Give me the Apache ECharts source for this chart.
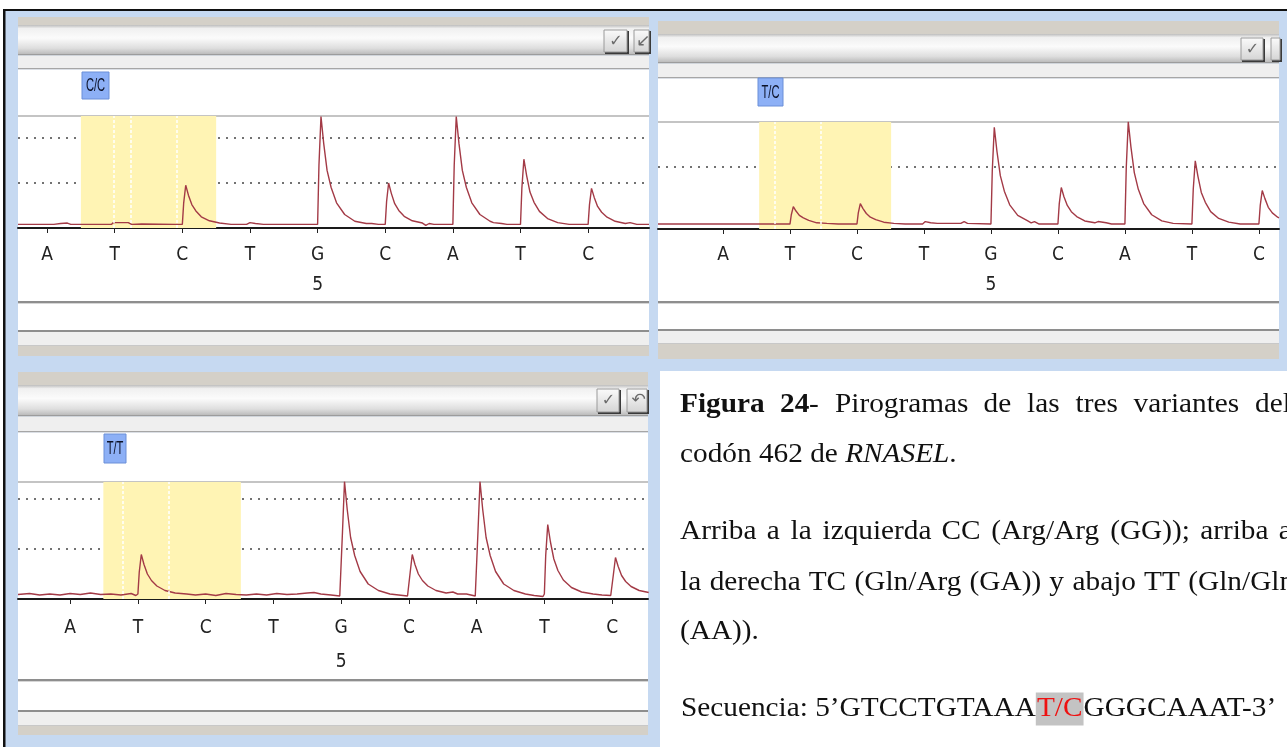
<!DOCTYPE html>
<html><head><meta charset="utf-8">
<script src="https://cdn.jsdelivr.net/npm/echarts@6/dist/echarts.min.js"></script>
<style>html,body{margin:0;padding:0;background:#fff;}#c{width:1287px;height:747px;}</style>
</head><body><div id="c"></div><script>
// ---------- DATA ----------
const dispensations = ['A', 'T', 'C', 'T', 'G', 'C', 'A', 'T', 'C'];
const positionNumbers = ['', '', '', '', '5', '', '', '', ''];
const genotypes = ['C/C', 'T/C', 'T/T'];

// pyrogram traces [dispensation position, signal]
const traceCC = [[-0.43,0.08],[0.1,0.08],[0.12,0.11],[0.2,0.1],[0.3,0.11],[0.35,0.08],[0.95,0.08],[0.98,0.12],[1.2,0.12],[1.25,0.08],[1.4,0.09],[1.9,0.08],
 [2.0,0.08],[2.02,0.56],[2.05,0.95],[2.09,0.73],[2.14,0.52],[2.2,0.38],[2.28,0.25],[2.4,0.16],[2.55,0.11],[2.72,0.08],
 [2.95,0.08],[3.0,0.12],[3.08,0.1],[3.2,0.08],
 [4.0,0.08],[4.02,1.4],[4.05,2.48],[4.09,1.88],[4.14,1.28],[4.2,0.9],[4.28,0.56],[4.4,0.3],[4.55,0.15],[4.72,0.1],[4.8,0.1],[4.82,0.07],[4.9,0.08],
 [5.0,0.08],[5.02,0.59],[5.05,1.0],[5.09,0.77],[5.14,0.54],[5.2,0.39],[5.28,0.26],[5.4,0.16],[5.55,0.11],[5.6,0.06],[5.65,0.1],[5.72,0.08],
 [6.0,0.08],[6.02,1.4],[6.05,2.48],[6.09,1.88],[6.14,1.28],[6.2,0.9],[6.28,0.56],[6.4,0.3],[6.55,0.15],[6.6,0.12],[6.72,0.1],[6.8,0.08],
 [7.0,0.08],[7.02,0.88],[7.05,1.53],[7.09,1.17],[7.14,0.8],[7.2,0.57],[7.28,0.37],[7.4,0.21],[7.55,0.12],[7.72,0.08],
 [8.0,0.08],[8.02,0.52],[8.05,0.88],[8.09,0.68],[8.14,0.48],[8.2,0.35],[8.28,0.24],[8.4,0.15],[8.55,0.1],[8.62,0.12],[8.72,0.08],[8.9,0.08]];

const traceTC = [[-0.97,0.08],[0.8,0.08],
 [1.0,0.08],[1.02,0.23],[1.05,0.36],[1.09,0.29],[1.14,0.22],[1.2,0.18],[1.28,0.14],[1.4,0.1],[1.55,0.09],[1.72,0.08],
 [2.0,0.08],[2.02,0.26],[2.05,0.41],[2.09,0.33],[2.14,0.25],[2.2,0.19],[2.28,0.15],[2.4,0.11],[2.55,0.09],[2.72,0.08],
 [2.98,0.08],[3.02,0.12],[3.1,0.1],[3.2,0.09],[3.55,0.09],[3.6,0.12],[3.65,0.09],
 [4.0,0.08],[4.02,0.94],[4.05,1.64],[4.09,1.25],[4.14,0.86],[4.2,0.61],[4.28,0.39],[4.4,0.22],[4.55,0.13],[4.6,0.1],[4.65,0.12],[4.72,0.08],
 [5.0,0.08],[5.02,0.41],[5.05,0.67],[5.09,0.52],[5.14,0.38],[5.2,0.28],[5.28,0.2],[5.4,0.13],[5.55,0.1],[5.6,0.12],[5.72,0.1],[5.8,0.08],
 [6.0,0.08],[6.02,0.99],[6.05,1.73],[6.09,1.32],[6.14,0.91],[6.2,0.64],[6.28,0.41],[6.4,0.23],[6.55,0.13],[6.72,0.09],
 [7.0,0.08],[7.02,0.64],[7.05,1.1],[7.09,0.85],[7.14,0.59],[7.2,0.43],[7.28,0.28],[7.4,0.17],[7.55,0.11],[7.72,0.08],
 [8.0,0.08],[8.02,0.38],[8.05,0.62],[8.09,0.49],[8.14,0.35],[8.2,0.26],[8.28,0.19],[8.3,0.18]];

const traceTT = [[-0.77,0.09],[-0.6,0.11],[-0.45,0.08],[-0.3,0.1],[-0.15,0.08],[0,0.11],[0.15,0.09],[0.3,0.12],[0.45,0.09],[0.6,0.1],[0.75,0.08],[0.9,0.11],[0.97,0.07],
 [1.0,0.1],[1.02,0.54],[1.05,0.89],[1.09,0.69],[1.14,0.5],[1.2,0.37],[1.28,0.26],[1.4,0.17],[1.55,0.12],[1.72,0.1],
 [1.85,0.08],[2.0,0.1],[2.15,0.07],[2.3,0.11],[2.45,0.09],[2.6,0.08],[2.75,0.1],[2.9,0.08],[3.05,0.11],[3.2,0.09],[3.35,0.1],[3.5,0.12],[3.6,0.13],[3.7,0.1],[3.85,0.08],[3.98,0.06],
 [4.0,0.1],[4.02,1.34],[4.05,2.35],[4.09,1.79],[4.14,1.23],[4.2,0.87],[4.28,0.55],[4.4,0.3],[4.55,0.17],[4.72,0.1],[4.85,0.08],[4.98,0.06],
 [5.0,0.1],[5.02,0.54],[5.05,0.89],[5.09,0.69],[5.14,0.5],[5.2,0.37],[5.28,0.26],[5.4,0.17],[5.55,0.12],[5.65,0.14],[5.72,0.1],[5.85,0.1],[5.98,0.06],
 [6.0,0.1],[6.02,1.34],[6.05,2.35],[6.09,1.79],[6.14,1.23],[6.2,0.87],[6.28,0.55],[6.4,0.3],[6.55,0.17],[6.72,0.1],[6.85,0.07],[6.98,0.05],
 [7.0,0.1],[7.02,0.87],[7.05,1.49],[7.09,1.14],[7.14,0.8],[7.2,0.57],[7.28,0.38],[7.4,0.23],[7.55,0.14],[7.72,0.1],[7.85,0.08],[7.98,0.07],
 [8.0,0.1],[8.02,0.5],[8.05,0.83],[8.09,0.65],[8.14,0.47],[8.2,0.35],[8.28,0.25],[8.4,0.17],[8.54,0.13]];

// highlighted (variant) region and internal separators, in dispensation units
const highlightCC = [0.5, 2.5];
const highlightTC = [0.54, 2.51];
const highlightTT = [0.49, 2.52];
const separatorsCC = [0.98, 1.23, 1.92];
const separatorsTC = [0.78, 1.46];
const separatorsTT = [0.77, 1.46];

// ---------- LAYOUT ----------
const panels = [
  {trace: traceCC, hl: highlightCC, sep: separatorsCC, badge: genotypes[0],
   x: 18, w: 631, xmin: -0.43, xmax: 8.9, ymax: 2.49,
   tanTop: 17, tanBot: 25, hdrBot: 54, lightBot: 68, plotTop: 116, axis: 228,
   line1: 301, line2: 330, lightBot2: 345, tanBot2: 356,
   badgeBox: [82, 72, 27, 27], btn: [604, 30, 24, 23], btn2: [634, 30, 16, 23], icon2: '↙',
   labelMargin: 12, labelLH: 30},
  {trace: traceTC, hl: highlightTC, sep: separatorsTC, badge: genotypes[1],
   x: 658, w: 621, xmin: -0.97, xmax: 8.3, ymax: 1.726,
   tanTop: 21, tanBot: 34, hdrBot: 62, lightBot: 77, plotTop: 122, axis: 229,
   line1: 301, line2: 329, lightBot2: 343, tanBot2: 359,
   badgeBox: [758, 78, 25, 28], btn: [1241, 38, 23, 23], btn2: [1271, 38, 10, 23], icon2: '',
   labelMargin: 11, labelLH: 30},
  {trace: traceTT, hl: highlightTT, sep: separatorsTT, badge: genotypes[2],
   x: 18, w: 630, xmin: -0.77, xmax: 8.53, ymax: 2.34,
   tanTop: 372, tanBot: 385, hdrBot: 415, lightBot: 431, plotTop: 482, axis: 599,
   line1: 679, line2: 710, lightBot2: 725, tanBot2: 735,
   badgeBox: [104, 434, 22, 29], btn: [597, 389, 23, 24], btn2: [627, 389, 21, 24], icon2: '↶',
   labelMargin: 12, labelLH: 34}
];

const BLUE = '#c6d9f1', TAN = '#d4d0c8', LIGHT = '#efefef', DARKLINE = '#8e8e8e';
const graphics = [];
function R(x, y, w, h, fill, z, extra) {
  return {type: 'rect', silent: true, z: z === undefined ? -10 : z,
    shape: {x, y, width: w, height: h}, style: Object.assign({fill}, extra || {})};
}
function T(x, y, text, st, z, sx) {
  return {type: 'text', x, y, silent: true, z: z === undefined ? 100 : z, scaleX: sx || 1,
    style: Object.assign({text, verticalAlign: 'middle'}, st)};
}
function grad(stops) { return {type: 'linear', x: 0, y: 0, x2: 0, y2: 1, colorStops: stops}; }

// page background and frame
graphics.push(R(5, 11, 1282, 360, BLUE, -20));
graphics.push(R(5, 370, 655, 377, BLUE, -20));
graphics.push(R(3, 9, 1284, 2, '#111', -5));
graphics.push(R(3, 9, 2.5, 738, '#111', -5));

panels.forEach(p => {
  const x = p.x, w = p.w;
  graphics.push(R(x, p.tanTop, w, p.tanBot - p.tanTop, TAN));
  graphics.push(R(x, p.tanBot, w, p.hdrBot - p.tanBot, grad([
    {offset: 0, color: '#bdbdbd'}, {offset: 0.12, color: '#f0f0f0'}, {offset: 0.45, color: '#fbfbfb'},
    {offset: 0.8, color: '#dedede'}, {offset: 1, color: '#bcbcbc'}])));
  graphics.push(R(x, p.hdrBot, w, 1.5, '#9c9c9c'));
  graphics.push(R(x, p.hdrBot + 1.5, w, p.lightBot - p.hdrBot - 1.5, LIGHT));
  graphics.push(R(x, p.lightBot, w, 1.5, '#a6a6a6'));
  graphics.push(R(x, p.lightBot + 1.5, w, p.line1 - p.lightBot - 1.5, '#ffffff'));
  graphics.push(R(x, p.plotTop - 1, w, 2, '#c4c4c4', -9));
  graphics.push(R(x, p.line1, w, 2, DARKLINE, -9));
  graphics.push(R(x, p.line1 + 2, w, 1, '#d6d6d6', -9));
  graphics.push(R(x, p.line1 + 3, w, p.line2 - p.line1 - 3, '#ffffff'));
  graphics.push(R(x, p.line2, w, 2, DARKLINE, -9));
  graphics.push(R(x, p.line2 + 2, w, p.lightBot2 - p.line2 - 2, LIGHT));
  graphics.push(R(x, p.lightBot2, w, 1, '#c8c8c8', -9));
  graphics.push(R(x, p.lightBot2 + 1, w, p.tanBot2 - p.lightBot2 - 1, TAN));
  // buttons
  [p.btn, p.btn2].forEach(b => {
    graphics.push(R(b[0] + 1, b[1] + 1, b[2], b[3], '#3a3a3a', -8));
    graphics.push(R(b[0], b[1], b[2] - 1, b[3] - 1, grad([{offset: 0, color: '#fbfbfb'}, {offset: 1, color: '#d4d4d4'}]), -7,
      {stroke: '#9a9a9a', lineWidth: 1}));
  });
  graphics.push(T(p.btn[0] + p.btn[2] / 2, p.btn[1] + p.btn[3] / 2,
    '✓', {fontSize: 16, fontFamily: 'DejaVu Sans', fill: '#6a6a6a', align: 'center'}, 50));
  if (p.icon2) graphics.push(T(p.btn2[0] + p.btn2[2] / 2 + 1, p.btn2[1] + p.btn2[3] / 2,
    p.icon2, {fontSize: 17, fontFamily: 'DejaVu Sans', fill: '#6a6a6a', align: 'center'}, 50));
  // genotype badge
  const bb = p.badgeBox;
  graphics.push(R(bb[0], bb[1], bb[2], bb[3], '#8db0f6', -6, {stroke: '#6b8fd8', lineWidth: 1}));
  graphics.push(T(bb[0] + bb[2] / 2, bb[1] + bb[3] / 2 + 1, p.badge,
    {fontSize: 18, fontFamily: 'Liberation Sans', fill: '#0c1228', align: 'center'}, 50, 0.62));
});

// caption text
const SERIF = "'Liberation Serif', 'Times New Roman', serif";
const SX = 1.085, FS = 27, TXT = '#111';
function word(x, y, s, bold) {
  return T(x, y, s, {fontSize: FS, fontFamily: SERIF, fill: TXT, fontWeight: bold ? 'bold' : 'normal'}, 100, SX);
}
const line1 = [['Figura', 680, 1], ['24', 780, 1], ['-', 809, 0], ['Pirogramas', 835, 0], ['de', 983.5, 0],
  ['las', 1027, 0], ['tres', 1075.5, 0], ['variantes', 1133.5, 0], ['del', 1255, 0]];
line1.forEach(w => graphics.push(word(w[1], 405, w[0], w[2])));
graphics.push(T(680, 455, '{n|codón 462 de }{i|RNASEL}{n|.}', {
  fill: TXT, fontSize: FS, fontFamily: SERIF,
  rich: {n: {fontSize: FS, fontFamily: SERIF, fill: TXT}, i: {fontSize: FS, fontFamily: SERIF, fill: TXT, fontStyle: 'italic'}}
}, 100, SX));
const line3 = [['Arriba', 680], ['a', 766.7], ['la', 790.6], ['izquierda', 822.5], ['CC', 941.5], ['(Arg/Arg', 991.2],
  ['(GG));', 1110.2], ['arriba', 1200.2], ['a', 1278.8]];
line3.forEach(w => graphics.push(word(w[1], 532, w[0])));
const line4 = [['la', 680], ['derecha', 709.7], ['TC', 808.7], ['(Gln/Arg', 854.5], ['(GA))', 969.6], ['y', 1049.2],
  ['abajo', 1072.5], ['TT', 1144.1], ['(Gln/Gln', 1188.3]];
line4.forEach(w => graphics.push(word(w[1], 583, w[0])));
graphics.push(word(680, 632, '(AA)).'));
graphics.push(T(681, 709, '{n|Secuencia: 5’GTCCTGTAAA}{r|T/C}{n|GGGCAAAT-3’}', {
  fill: TXT, fontSize: FS, fontFamily: SERIF,
  rich: {n: {fontSize: FS, fontFamily: SERIF, fill: TXT},
         r: {fontSize: FS, fontFamily: SERIF, fill: '#ee1111', backgroundColor: '#c3c3c3', padding: [3, 1, 3, 1]}}
}, 100, SX));

// ---------- CHART ----------
const LABEL_FONT = "'Liberation Sans Narrow', 'DejaVu Sans Condensed', 'Roboto Condensed', Roboto, sans-serif";
const ticks = dispensations.map((d, i) => i);
const option = {
  animation: false,
  backgroundColor: '#ffffff',
  grid: panels.map(p => ({left: p.x, top: p.plotTop, width: p.w, height: p.axis - p.plotTop, containLabel: false})),
  xAxis: panels.map((p, i) => ({
    type: 'value', gridIndex: i, min: p.xmin, max: p.xmax,
    axisLine: {show: true, onZero: false, lineStyle: {color: '#1a1a1a', width: 2}},
    axisTick: {show: true, customValues: ticks, length: 5, lineStyle: {color: '#222', width: 1}},
    axisLabel: {customValues: ticks, margin: p.labelMargin, lineHeight: p.labelLH,
      fontSize: 19, color: '#222', fontFamily: LABEL_FONT,
      formatter: v => dispensations[v] + (positionNumbers[v] ? '\n' + positionNumbers[v] : '')},
    splitLine: {show: false}
  })),
  yAxis: panels.map((p, i) => ({
    type: 'value', gridIndex: i, min: 0, max: p.ymax, interval: 1,
    axisLine: {show: false}, axisTick: {show: false}, axisLabel: {show: false},
    splitLine: {show: true, showMinLine: false, showMaxLine: false,
      lineStyle: {type: [2, 6], color: '#444', width: 1.5}}
  })),
  series: panels.map((p, i) => ({
    type: 'line', xAxisIndex: i, yAxisIndex: i, data: p.trace,
    symbol: 'none', clip: true, silent: true,
    lineStyle: {color: '#a33a46', width: 1.4},
    markArea: {silent: true, itemStyle: {color: '#fff4b4'},
      data: [[{xAxis: p.hl[0]}, {xAxis: p.hl[1]}]]},
    markLine: {silent: true, symbol: 'none', label: {show: false},
      lineStyle: {color: '#ffffff', type: [3, 2], width: 1.5},
      data: p.sep.map(v => ({xAxis: v}))}
  })),
  graphic: graphics
};
const chart = echarts.init(document.getElementById('c'), null, {renderer: 'canvas'});
chart.setOption(option);
</script></body></html>
